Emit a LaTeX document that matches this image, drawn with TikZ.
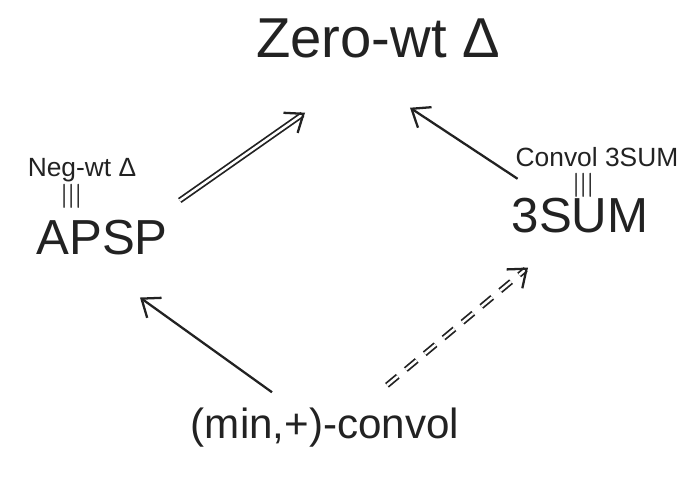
\documentclass[tikz,border=0pt]{standalone}
\usepackage{fontspec}
\setmainfont{Liberation Sans}
\usetikzlibrary{arrows.meta}
\definecolor{ink}{HTML}{222222}

\begin{document}
\begin{tikzpicture}[x=0.02cm,y=-0.02cm,every node/.style={inner sep=1pt,text=ink},
	huge/.style={font=\fontsize{32}{36}\selectfont},
	bigtext/.style={font=\fontsize{28}{32}\selectfont},
	midtext/.style={font=\fontsize{24}{28}\selectfont},
	smalltext/.style={font=\fontsize{15}{18}\selectfont},
	equivmark/.style={rotate=90,font=\fontsize{22}{24}\selectfont},
	reduction/.style={draw=ink,line width=1.3pt,-{Straight Barb[length=9pt,width=14pt,line width=1.3pt]}}]
	\useasboundingbox (0,0) rectangle (683,484);

	%top node
	\node[huge] (zero) at (378,38) {Zero-wt Δ};

	%left node
	\node[smalltext] (neg) at (82,170) {Neg-wt Δ};
	\node[equivmark] (eqL) at (72,196) {$\equiv$};
	\node[bigtext] (apsp) at (102,238) {APSP};

	%right node
	\node[smalltext] (conv3) at (597,157) {Convol 3SUM};
	\node[equivmark] (eqR) at (584,185) {$\equiv$};
	\node[bigtext] (tsum) at (580,216) {3SUM};

	%bottom node
	\node[midtext] (minconv) at (325,428) {(min,+)-convol};

	%edges
	\draw[reduction,double=white,double distance=1.4pt,line width=1pt]
		([xshift=0.2cm,yshift=0.36cm]apsp.north east) -- ([xshift=-1.46cm,yshift=-1.06cm]zero.south);
	\draw[reduction] ([xshift=0.08cm,yshift=-0.2cm]conv3.south west) -- ([xshift=0.64cm,yshift=-0.96cm]zero.south);
	\draw[reduction] ([xshift=-1.06cm,yshift=0.28cm]minconv.north) -- ([xshift=0.76cm,yshift=-0.8cm]apsp.south);
	\draw[reduction,dashed,dash pattern=on 8pt off 6pt,double=white,double distance=1.4pt,line width=1pt]
		([xshift=1.24cm,yshift=0.42cm]minconv.north) -- ([xshift=-1.04cm,yshift=-0.64cm]tsum.south);
\end{tikzpicture}
\end{document}
